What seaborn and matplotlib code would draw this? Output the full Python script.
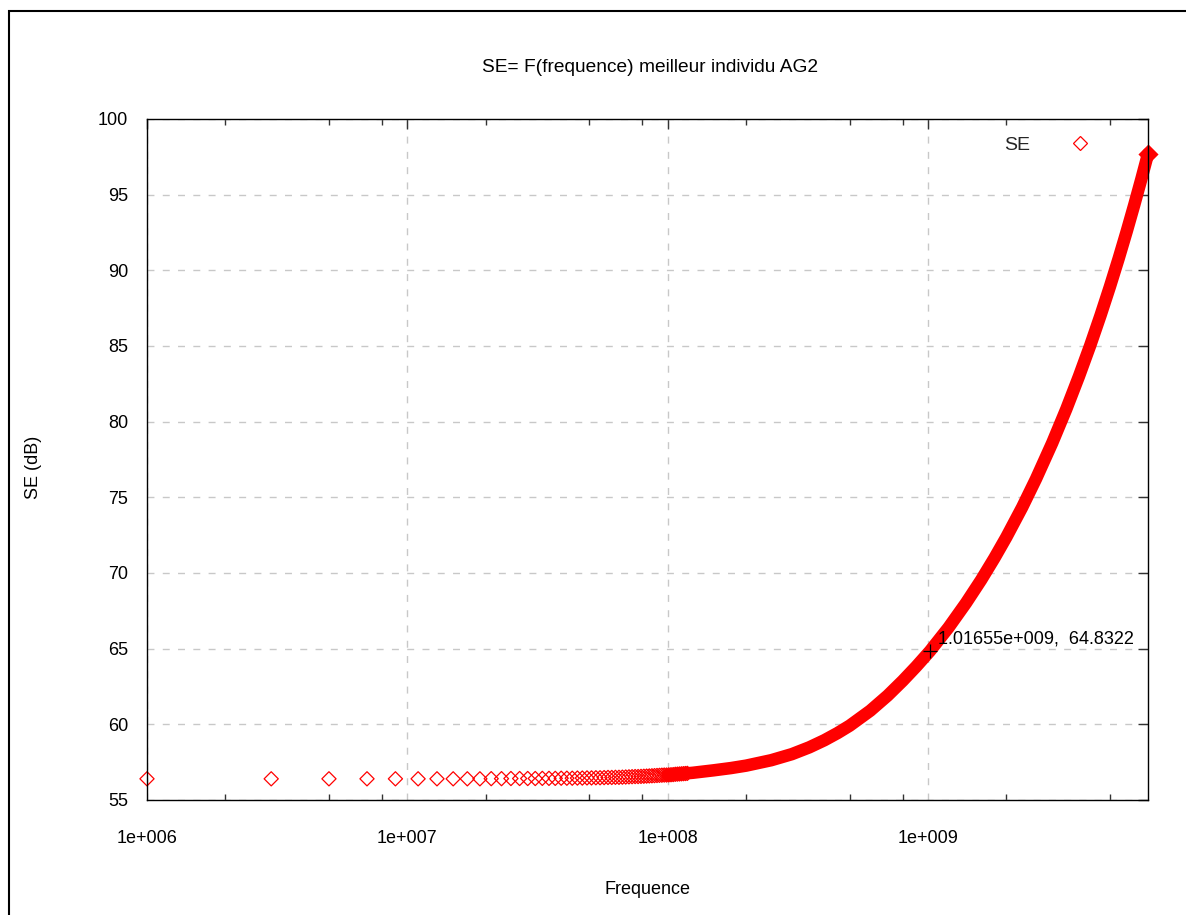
import matplotlib
matplotlib.use("Agg")
import matplotlib.pyplot as plt
from matplotlib.lines import Line2D
from matplotlib.patches import Rectangle
from matplotlib.ticker import LogLocator, FixedLocator, NullFormatter
import seaborn as sns
import pandas as pd

# ---- data -------------------------------------------------------------
# low-frequency samples (MHz grid, 2 MHz step) drawn as individual diamonds
freq_low_mhz = list(range(1, 121, 2))
se_low = [
    56.40, 56.40, 56.40, 56.40, 56.40, 56.40, 56.40, 56.40, 56.40, 56.40,
    56.41, 56.41, 56.42, 56.42, 56.42, 56.42, 56.43, 56.43, 56.43, 56.44,
    56.44, 56.44, 56.45, 56.45, 56.46, 56.46, 56.47, 56.47, 56.48, 56.49,
    56.49, 56.50, 56.50, 56.51, 56.52, 56.53, 56.54, 56.55, 56.55, 56.56,
    56.57, 56.58, 56.59, 56.60, 56.61, 56.62, 56.63, 56.64, 56.65, 56.65,
    56.66, 56.67, 56.68, 56.70, 56.71, 56.72, 56.73, 56.74, 56.75, 56.76,
]

# upper band (GHz / dB): samples so dense they merge into a solid stroke
freq_high_ghz = [0.100, 0.125, 0.150, 0.175, 0.200, 0.250, 0.300, 0.350,
                 0.400, 0.450, 0.500, 0.600, 0.700, 0.800, 0.900, 1.01655,
                 1.200, 1.400, 1.600, 1.800, 2.000, 2.300, 2.600, 3.000,
                 3.400, 3.800, 4.200, 4.600, 5.000, 5.400, 5.800, 6.200,
                 6.600, 7.000]
se_high = [56.65, 56.80, 56.96, 57.11, 57.27, 57.63, 58.03, 58.48,
           58.95, 59.43, 59.91, 60.90, 61.90, 62.88, 63.81, 64.8322,
           66.40, 68.02, 69.54, 70.99, 72.37, 74.34, 76.22, 78.59,
           80.84, 82.99, 85.04, 87.02, 88.93, 90.78, 92.58, 94.33,
           96.03, 97.69]

# picked point shown with its coordinates
pick_f = 1.01655e9
pick_se = 64.8322

x_major = [1e6, 1e7, 1e8, 1e9]
x_major_labels = ["1e+006", "1e+007", "1e+008", "1e+009"]
y_ticks = [55, 60, 65, 70, 75, 80, 85, 90, 95, 100]

low_df = pd.DataFrame({"f": [m * 1e6 for m in freq_low_mhz], "se": se_low})
high_df = pd.DataFrame({"f": [g * 1e9 for g in freq_high_ghz], "se": se_high})

# ---- style ------------------------------------------------------------
sns.set_theme(style="white")
plt.rcParams["font.family"] = ["Liberation Sans", "DejaVu Sans"]
plt.rcParams["axes.edgecolor"] = "black"

W, H = 1186, 915
fig = plt.figure(figsize=(W / 100, H / 100), dpi=100)
ax = fig.add_axes([147 / W, 1 - 800 / H, (1148 - 147) / W, (800 - 119) / H])
ax.set_xscale("log")

red = "#ff0000"

# solid band for the dense high-frequency samples
sns.lineplot(data=high_df, x="f", y="se", ax=ax, color=red, linewidth=9.0,
             sort=False, estimator=None, solid_capstyle="round",
             solid_joinstyle="round", legend=False, zorder=3, clip_on=False)
# end of the band shows a full diamond
sns.scatterplot(x=[high_df["f"].iloc[-1]], y=[high_df["se"].iloc[-1]], ax=ax,
                marker="D", s=105, color=red, edgecolor=red, linewidth=0,
                legend=False, zorder=4, clip_on=False)
# individual open diamonds at low frequency
sns.scatterplot(data=low_df, x="f", y="se", ax=ax, marker="D", s=52,
                facecolor="none", edgecolor=red, linewidth=0.9,
                legend=False, zorder=3, clip_on=False)

# picked point: cross + coordinates
ax.plot([pick_f], [pick_se], marker="+", ms=10, mew=0.9, color="black",
        zorder=5)
ax.annotate(f"{pick_f:.5e}".replace("e+09", "e+009") + f",  {pick_se:.4f}",
            xy=(pick_f, pick_se), xytext=(8, 8), textcoords="offset pixels",
            ha="left", va="baseline", fontsize=13, color="black", zorder=6)

# ---- axes -------------------------------------------------------------
ax.set_xlim(1e6, 7e9)
ax.set_ylim(55, 100)
ax.xaxis.set_major_locator(FixedLocator(x_major))
ax.set_xticklabels(x_major_labels)
ax.xaxis.set_minor_locator(LogLocator(base=10, subs=[2, 5, 8]))
ax.xaxis.set_minor_formatter(NullFormatter())
ax.set_yticks(y_ticks)
ax.set_yticklabels([str(v) for v in y_ticks])

ax.tick_params(axis="both", which="major", direction="in", length=7,
               width=1.0, color="#333333", top=True, right=True,
               labelsize=13, labelcolor="black")
ax.tick_params(axis="x", which="major", pad=21.5)
ax.tick_params(axis="y", which="major", pad=13.5)
ax.tick_params(axis="x", which="minor", direction="in", length=4,
               width=1.0, color="#333333", top=True, bottom=True)

ax.grid(True, which="major", color="#c8c8c8", linestyle=(0, (5, 6)),
        linewidth=1.0)
ax.set_axisbelow(True)
for s in ax.spines.values():
    s.set_color("black")
    s.set_linewidth(1.0)
    s.set_zorder(7)

ax.set_xlabel("Frequence", fontsize=13, color="black")
ax.xaxis.set_label_coords(0.5, (800 - 889) / (800 - 119))
ax.xaxis.label.set_va("center")
ax.set_ylabel("SE (dB)", fontsize=13, color="black")
ax.yaxis.set_label_coords((34 - 147) / (1148 - 147), (800 - 467) / (800 - 119))
ax.yaxis.label.set_va("center")

fig.text(650 / W, 1 - 67 / H, "SE= F(frequence) meilleur individu AG2",
         ha="center", va="center", fontsize=13.8, color="black")

# legend: label then sample marker
handle = Line2D([], [], linestyle="none", marker="D", markersize=6.8,
                markerfacecolor="none", markeredgecolor=red,
                markeredgewidth=0.9)
ax.legend([handle], ["SE"], loc="center right",
          bbox_to_anchor=((1099 - 147) / (1148 - 147),
                          (800 - 145) / (800 - 119)),
          frameon=False, markerfirst=False, fontsize=14,
          handlelength=2.0, handletextpad=1.55, borderpad=0.0,
          borderaxespad=0.0)

# outer frame of the page
fig.add_artist(Rectangle((9 / W, -0.5), 2.0, (1 - 11 / H) + 0.5,
                         transform=fig.transFigure, fill=False,
                         edgecolor="black", linewidth=1.5))

fig.savefig("out.png", dpi=100)
